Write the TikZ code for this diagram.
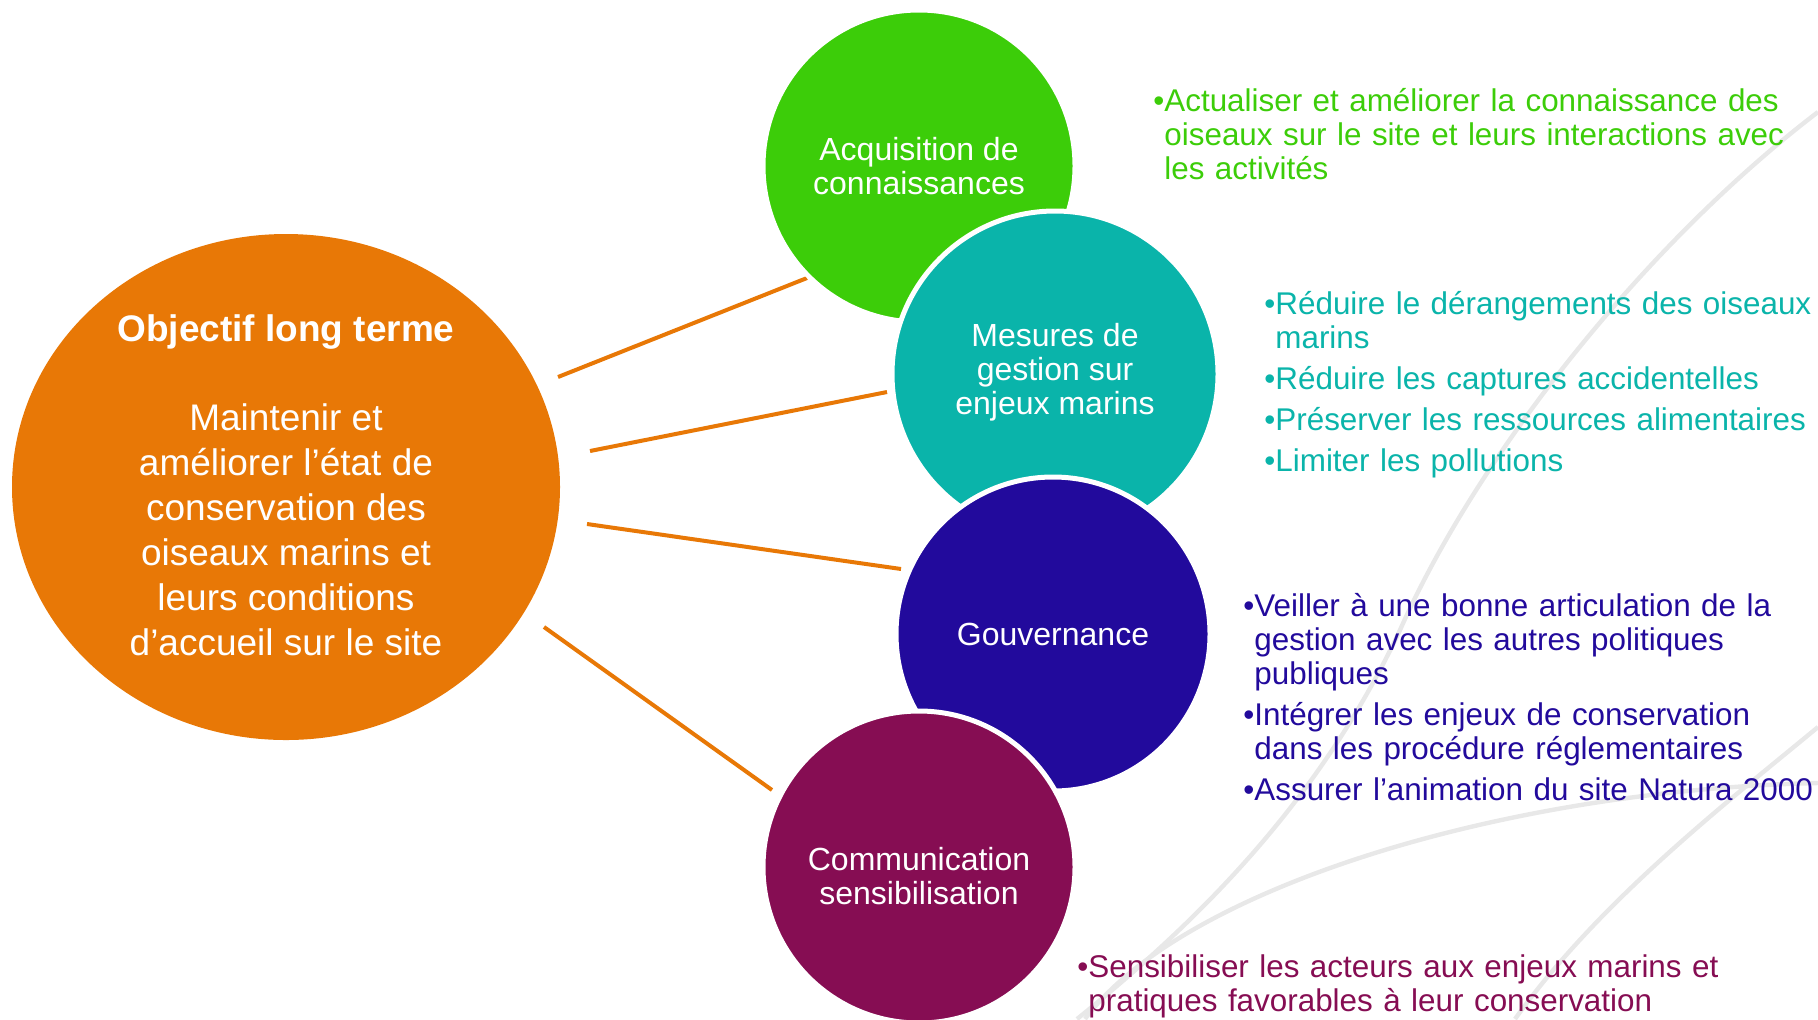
\documentclass[tikz,border=0pt]{standalone}
\usepackage{fontspec}
\setmainfont{Liberation Sans}
\usetikzlibrary{shapes.geometric}
\definecolor{corange}{HTML}{E87806}
\definecolor{cgreen}{HTML}{3CCD09}
\definecolor{cteal}{HTML}{0AB4AA}
\definecolor{cpurple}{HTML}{220A9C}
\definecolor{cmagenta}{HTML}{860D53}
\definecolor{cswoosh}{HTML}{E8E8E8}
\newcommand\bulitem[1]{\par\noindent\sbox0{•}\hangindent=\wd0\hangafter=1\rule{0pt}{12.5pt}\box0#1\par}
\tikzset{
  bubble/.style={circle, draw=white, line width=2.5pt, inner sep=0pt, text=white, align=center,
    font=\fontsize{16}{17}\selectfont},
  bubbletext/.style={inner sep=0pt, text=white, align=center, font=\fontsize{16}{17}\selectfont},
  conn/.style={draw=corange, line width=2pt},
  swoosh/.style={draw=cswoosh, line width=2.2pt},
  bullets/.style={anchor=north west, inner sep=0pt, text width=340pt, align=left,
    font=\fontsize{15.7}{17}\selectfont, execute at begin node={\setlength{\parskip}{3.5pt}}}
}
\begin{document}
\begin{tikzpicture}[x=0.5pt, y=-0.5pt]
\useasboundingbox (0,0) rectangle (1818,1019);
% background swooshes
\draw[swoosh] (1818,112) .. controls (1650,240) and (1480,450) .. (1400,630)
   .. controls (1320,800) and (1200,920) .. (1077,1019);
\draw[swoosh] (1818,783) .. controls (1500,790) and (1180,890) .. (1085,1019);
\draw[swoosh] (1818,727) .. controls (1730,800) and (1600,900) .. (1515,1019);
% main objective
\node[ellipse, fill=corange, inner sep=0pt, minimum width=274pt, minimum height=253pt] (obj) at (286,487) {};
\node[inner sep=0pt, text=white, align=center, font=\fontsize{18.5}{22.5}\selectfont] (objtxt) at (286,485)
  {\textbf{Objectif long terme}\\[22pt]Maintenir et\\améliorer l’état de\\conservation des\\oiseaux marins et\\leurs conditions\\d’accueil sur le site};
% connector end points
\coordinate (o1) at (558,377); \coordinate (e1) at (807,278);
\coordinate (o2) at (590,451); \coordinate (e2) at (887,392);
\coordinate (o3) at (587,524); \coordinate (e3) at (901,569);
\coordinate (o4) at (544,627); \coordinate (e4) at (772,790);
\draw[conn] (o1) -- (e1);
\draw[conn] (o2) -- (e2);
\draw[conn] (o3) -- (e3);
\draw[conn] (o4) -- (e4);
% bubbles
\node[bubble, fill=cgreen, minimum size=156pt] (acq) at (919,166) {Acquisition de\\connaissances};
\node[bubble, fill=cteal, minimum size=163pt] (mes) at (1055,374) {};
\node[bubbletext] (mestxt) at (1055,372.5) {Mesures de\\gestion sur\\enjeux marins};
\node[bubble, fill=cpurple, minimum size=157pt] (gov) at (1053,634) {Gouvernance};
\node[bubble, fill=cmagenta, minimum size=156pt] (com) at (919,867) {};
\node[bubbletext] (comtxt) at (919,876) {Communication\\sensibilisation};
% bullet texts
\node[bullets, text=cgreen] (tacq) at (1153,70) {%
  \bulitem{Actualiser et améliorer la connaissance des\newline oiseaux sur le site et leurs interactions avec\newline les activités}};
\node[bullets, text=cteal] (tmes) at (1264,273) {%
  \bulitem{Réduire le dérangements des oiseaux\newline marins}%
  \bulitem{Réduire les captures accidentelles}%
  \bulitem{Préserver les ressources alimentaires}%
  \bulitem{Limiter les pollutions}};
\node[bullets, text=cpurple] (tgov) at (1243,575) {%
  \bulitem{Veiller à une bonne articulation de la\newline gestion avec les autres politiques\newline publiques}%
  \bulitem{Intégrer les enjeux de conservation\newline dans les procédure réglementaires}%
  \bulitem{Assurer l’animation du site Natura 2000}};
\node[bullets, text=cmagenta] (tcom) at (1077,936) {%
  \bulitem{Sensibiliser les acteurs aux enjeux marins et\newline pratiques favorables à leur conservation}};
\end{tikzpicture}
\end{document}
